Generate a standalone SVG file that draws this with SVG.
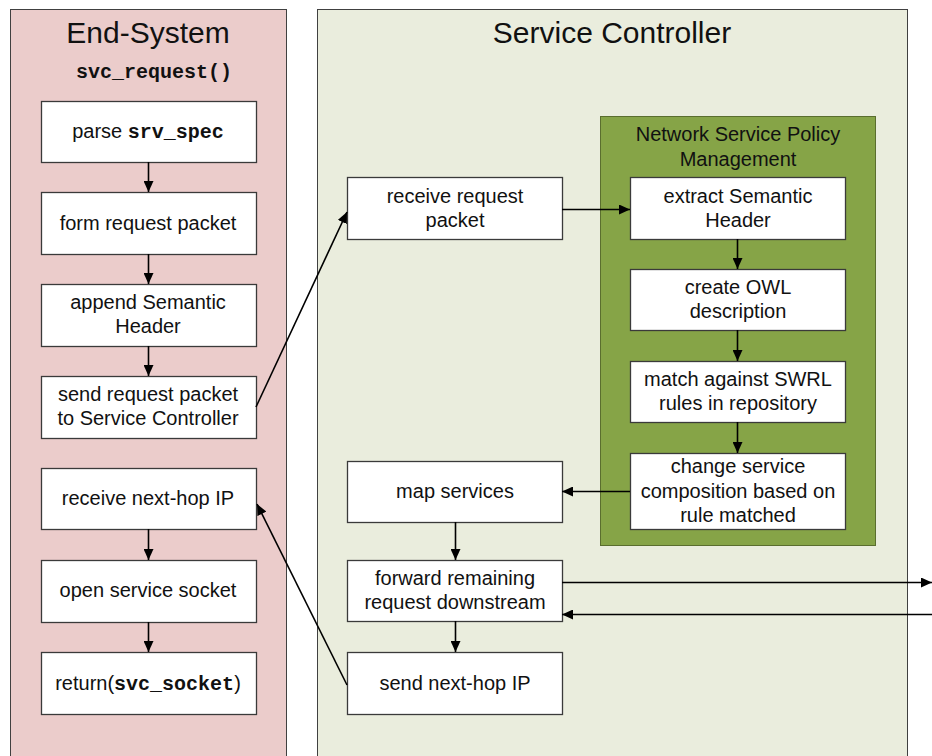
<svg xmlns="http://www.w3.org/2000/svg" width="932" height="756" viewBox="0 0 932 756">
<defs>
<marker id="ah" markerUnits="userSpaceOnUse" markerWidth="11" markerHeight="10" refX="11" refY="5" orient="auto">
<path d="M0,0 L11,5 L0,10 z" fill="#000"/>
</marker>
<style>
.panel{stroke:#404040;stroke-width:1}
.box{fill:#fff;stroke:#3a3a3a;stroke-width:1.3}
.t{font-family:"Liberation Sans",Arial,sans-serif;font-size:20px;fill:#111;text-anchor:middle}
.title{font-family:"Liberation Sans",Arial,sans-serif;font-size:30px;fill:#111;text-anchor:middle}
.code{font-family:"Liberation Mono","Courier New",monospace;font-weight:bold}
.c{fill:none;stroke:#000;stroke-width:1.6;marker-end:url(#ah)}
</style>
</defs>
<rect width="932" height="756" fill="#fff"/>
<g id="end-system">
<rect class="panel" x="10.5" y="9.5" width="276" height="760" fill="#ebcccb"/>
<text class="title" x="148" y="43">End-System</text>
<text class="t code" x="154" y="78">svc_request()</text>
</g>
<g id="service-controller">
<rect class="panel" x="317.5" y="9.5" width="590" height="760" fill="#eaeddd"/>
<text class="title" x="612" y="43">Service Controller</text>
</g>
<g id="nspm">
<rect x="600.5" y="116.5" width="275" height="429" fill="#86a447" stroke="#5a6e2e" stroke-width="1"/>
<text class="t" x="738" y="141">Network Service Policy</text>
<text class="t" x="738" y="166">Management</text>
</g>
<g id="parse">
<rect class="box" x="41.5" y="101.5" width="215" height="61"/>
<text class="t" x="148" y="138">parse <tspan class="code">srv_spec</tspan></text>
</g>
<g id="form">
<rect class="box" x="41.5" y="192.5" width="215" height="62"/>
<text class="t" x="148" y="230">form request packet</text>
</g>
<g id="append">
<rect class="box" x="41.5" y="284.5" width="215" height="62"/>
<text class="t" x="148" y="309">append Semantic</text>
<text class="t" x="148" y="333">Header</text>
</g>
<g id="send-request">
<rect class="box" x="41.5" y="376.5" width="215" height="62"/>
<text class="t" x="148" y="401">send request packet</text>
<text class="t" x="148" y="425">to Service Controller</text>
</g>
<g id="receive-nexthop">
<rect class="box" x="41.5" y="468.5" width="215" height="61"/>
<text class="t" x="148" y="505">receive next-hop IP</text>
</g>
<g id="open-socket">
<rect class="box" x="41.5" y="560.5" width="215" height="62"/>
<text class="t" x="148" y="597">open service socket</text>
</g>
<g id="return">
<rect class="box" x="41.5" y="652.5" width="215" height="62"/>
<text class="t" x="148" y="690">return(<tspan class="code">svc_socket</tspan>)</text>
</g>
<g id="receive-request">
<rect class="box" x="347.5" y="177.5" width="215" height="62"/>
<text class="t" x="455" y="203">receive request</text>
<text class="t" x="455" y="227">packet</text>
</g>
<g id="extract">
<rect class="box" x="630.5" y="177.5" width="215" height="62"/>
<text class="t" x="738" y="203">extract Semantic</text>
<text class="t" x="738" y="227">Header</text>
</g>
<g id="create-owl">
<rect class="box" x="630.5" y="269.5" width="215" height="61"/>
<text class="t" x="738" y="294">create OWL</text>
<text class="t" x="738" y="318">description</text>
</g>
<g id="match">
<rect class="box" x="630.5" y="361.5" width="215" height="61"/>
<text class="t" x="738" y="386">match against SWRL</text>
<text class="t" x="738" y="410">rules in repository</text>
</g>
<g id="change">
<rect class="box" x="630.5" y="453.5" width="215" height="76"/>
<text class="t" x="738" y="473">change service</text>
<text class="t" x="738" y="498">composition based on</text>
<text class="t" x="738" y="522">rule matched</text>
</g>
<g id="map">
<rect class="box" x="347.5" y="461.5" width="215" height="61"/>
<text class="t" x="455" y="498">map services</text>
</g>
<g id="forward">
<rect class="box" x="347.5" y="560.5" width="215" height="61"/>
<text class="t" x="455" y="585">forward remaining</text>
<text class="t" x="455" y="609">request downstream</text>
</g>
<g id="send-nexthop">
<rect class="box" x="347.5" y="652.5" width="215" height="62"/>
<text class="t" x="455" y="690">send next-hop IP</text>
</g>
<g id="connectors">
<line class="c" x1="148.5" y1="162" x2="148.5" y2="192"/>
<line class="c" x1="148.5" y1="254" x2="148.5" y2="284"/>
<line class="c" x1="148.5" y1="346" x2="148.5" y2="376"/>
<line class="c" x1="148.5" y1="529" x2="148.5" y2="560"/>
<line class="c" x1="148.5" y1="622" x2="148.5" y2="652"/>
<line class="c" x1="256" y1="407" x2="347" y2="212"/>
<line class="c" x1="562" y1="209.5" x2="630" y2="209.5"/>
<line class="c" x1="737.5" y1="239" x2="737.5" y2="269"/>
<line class="c" x1="737.5" y1="330" x2="737.5" y2="361"/>
<line class="c" x1="737.5" y1="422" x2="737.5" y2="453"/>
<line class="c" x1="630" y1="491.5" x2="562" y2="491.5"/>
<line class="c" x1="455.5" y1="522" x2="455.5" y2="560"/>
<line class="c" x1="455.5" y1="621" x2="455.5" y2="652"/>
<line class="c" x1="562" y1="582.5" x2="932" y2="582.5"/>
<line class="c" x1="932" y1="614.5" x2="562" y2="614.5"/>
<line class="c" x1="347" y1="685" x2="257" y2="504"/>
</g>
</svg>
